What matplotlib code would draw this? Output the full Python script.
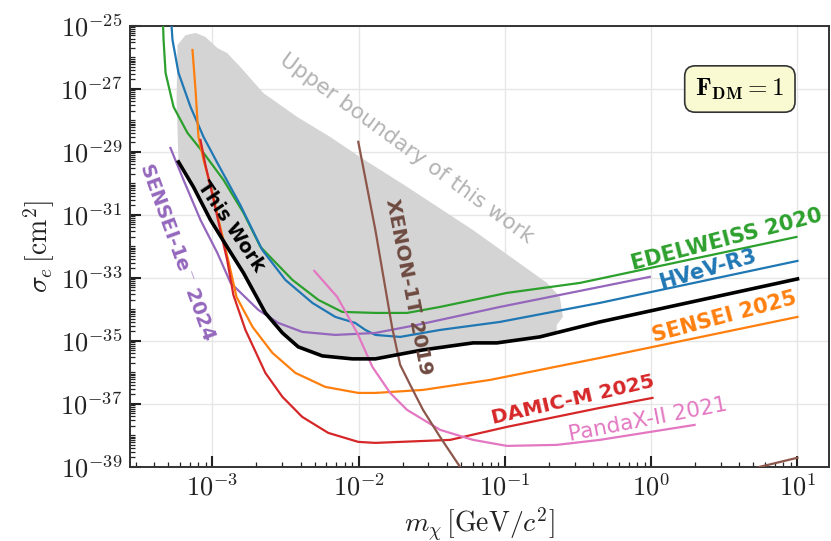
import numpy as np
import matplotlib
matplotlib.use("Agg")
import matplotlib.pyplot as plt
from matplotlib.ticker import LogLocator, FixedLocator, FuncFormatter, NullFormatter

plt.rcParams['mathtext.fontset'] = 'cm'
plt.rcParams['font.family'] = ['DejaVu Sans']

# curves: mass [GeV/c^2], cross section [cm^2]
edel_m = [4.56e-4, 4.63e-4, 4.78e-4, 5.42e-4, 6.75e-4, 8.69e-4, 1.19e-3, 1.63e-3, 2.13e-3,
          3.52e-3, 5.30e-3, 7.71e-3, 1.30e-2, 2.14e-2, 3.60e-2, 0.103, 0.325, 9.84]
edel_s = [3.22e-25, 3.60e-26, 3.22e-27, 2.69e-28, 4.01e-29, 9.29e-30, 1.29e-30, 1.16e-31, 9.64e-33,
          8.65e-34, 2.00e-34, 8.34e-35, 7.74e-35, 7.74e-35, 1.20e-34, 3.34e-34, 6.93e-34, 2.00e-32]

hvev_m = [5.16e-4, 5.33e-4, 5.86e-4, 7.08e-4, 8.69e-4, 1.08e-3, 1.55e-3, 2.19e-3, 3.15e-3,
          4.82e-3, 6.92e-3, 9.46e-3, 1.11e-2, 1.30e-2, 1.92e-2, 3.60e-2, 9.25e-2, 0.445, 10.0]
hvev_s = [3.22e-25, 3.60e-26, 3.22e-27, 2.69e-28, 2.99e-29, 4.48e-30, 2.07e-31, 7.74e-33, 8.65e-34,
          1.61e-34, 5.78e-35, 3.72e-35, 2.23e-35, 1.55e-35, 1.34e-35, 2.23e-35, 4.01e-35, 1.61e-34, 3.47e-33]

work_m = [5.86e-4, 7.41e-4, 9.69e-4, 1.26e-3, 1.63e-3, 2.30e-3, 3.01e-3, 3.86e-3, 5.64e-3,
          9.04e-3, 1.30e-2, 2.75e-2, 6.05e-2, 8.81e-2, 0.173, 0.445, 10.0]
work_s = [4.82e-30, 7.74e-31, 6.93e-32, 9.64e-33, 1.44e-33, 7.74e-35, 1.79e-35, 6.46e-36, 3.34e-36,
          2.69e-36, 2.69e-36, 5.18e-36, 8.65e-36, 8.65e-36, 1.34e-35, 4.01e-35, 9.29e-34]

s1e_m = [5.16e-4, 6.34e-4, 8.28e-4, 1.08e-3, 1.33e-3, 2.06e-3, 2.82e-3, 4.11e-3, 6.92e-3,
         1.30e-2, 2.51e-2, 9.25e-2, 0.445, 0.977]
s1e_s = [1.34e-29, 1.29e-30, 6.93e-32, 6.22e-33, 6.93e-34, 9.64e-35, 3.72e-35, 1.93e-35, 1.55e-35,
         1.79e-35, 3.22e-35, 1.20e-34, 5.18e-34, 1.08e-33]

s25_m = [7.30e-4, 7.66e-4, 8.02e-4, 8.69e-4, 1.00e-3, 1.13e-3, 1.29e-3, 1.46e-3, 1.88e-3,
         2.57e-3, 3.69e-3, 5.90e-3, 9.93e-3, 1.30e-2, 2.75e-2, 7.91e-2, 0.445, 10.0]
s25_s = [1.73e-26, 9.29e-28, 2.99e-29, 5.57e-30, 4.99e-31, 4.16e-32, 3.22e-33, 2.49e-34, 2.78e-35,
         4.16e-36, 9.64e-37, 3.47e-37, 2.23e-37, 2.23e-37, 2.78e-37, 5.78e-37, 2.88e-36, 5.78e-35]

damic_m = [8.28e-4, 8.95e-4, 1.00e-3, 1.13e-3, 1.26e-3, 1.39e-3, 1.68e-3, 2.30e-3, 3.01e-3,
           4.11e-3, 6.19e-3, 9.93e-3, 1.30e-2, 4.22e-2, 0.103, 0.445, 1.02]
damic_s = [2.40e-29, 3.86e-30, 4.31e-31, 3.34e-32, 3.72e-33, 2.88e-34, 2.23e-35, 9.64e-37, 1.67e-37,
           3.86e-38, 1.20e-38, 6.22e-39, 5.78e-39, 7.20e-39, 1.86e-38, 7.46e-38, 1.55e-37]

panda_m = [4.97e-3, 7.13e-3, 9.77e-3, 1.24e-2, 1.64e-2, 2.14e-2, 3.60e-2, 6.05e-2, 0.103,
           0.226, 0.445, 1.98]
panda_s = [1.67e-33, 2.49e-34, 1.79e-35, 1.50e-36, 2.23e-37, 6.46e-38, 1.50e-38, 7.20e-39, 4.64e-39,
           4.99e-39, 7.20e-39, 2.15e-38]

xenon_m = [9.93e-3, 1.30e-2, 1.69e-2, 1.92e-2, 2.25e-2, 2.75e-2, 3.60e-2, 4.93e-2, 5.5e-2]
xenon_s = [2.1e-29, 3.3e-32, 2.75e-35, 1.74e-36, 4.0e-37, 6.5e-38, 8.9e-39, 1.0e-39, 4e-40]

xenon2_m = [4.5, 5.51, 10.0]
xenon2_s = [7e-40, 1.0e-39, 1.95e-39]

# shaded region: upper boundary, then lower boundary back to the start
band_up_m = [5.86e-4, 5.68e-4, 5.77e-4, 6.55e-4, 7.66e-4, 8.95e-4, 1.08e-3, 1.26e-3, 1.55e-3,
             2.23e-3, 3.80e-3, 6.38e-3, 1.02e-2, 2.14e-2, 6.05e-2, 0.194, 0.237, 0.249, 0.226]
band_up_s = [4.82e-30, 4.5e-28, 2.5e-26, 5.1e-26, 6.0e-26, 4.5e-26, 2.0e-26, 1.38e-26, 5.0e-27,
             7.4e-28, 1.29e-28, 3.0e-29, 6.9e-30, 7.8e-31, 3.3e-32, 6.9e-34, 2.5e-34, 5.8e-35, 3.2e-35]
band_lo_m = [0.226, 0.173, 8.81e-2, 6.05e-2, 2.75e-2, 1.30e-2, 9.04e-3, 5.64e-3, 3.86e-3,
             3.01e-3, 2.30e-3, 1.63e-3, 1.26e-3, 9.69e-4, 7.41e-4, 5.86e-4]
band_lo_s = [2.0e-35, 1.34e-35, 8.65e-36, 8.65e-36, 5.18e-36, 2.69e-36, 2.69e-36, 3.34e-36, 6.46e-36,
             1.79e-35, 7.74e-35, 1.44e-33, 9.64e-33, 6.93e-32, 7.74e-31, 4.82e-30]

fig = plt.figure(figsize=(8.31, 5.41), dpi=100)
ax = fig.add_axes([0.157, 0.137, 0.84, 0.815])
ax.set_xscale('log')
ax.set_yscale('log')

ax.fill(band_up_m + band_lo_m, band_up_s + band_lo_s, color='#d4d4d4', lw=0, zorder=1)

ax.plot(edel_m, edel_s, color='#2ca02c', lw=1.6, zorder=3)
ax.plot(hvev_m, hvev_s, color='#1f77b4', lw=1.6, zorder=3)
ax.plot(s1e_m, s1e_s, color='#9467bd', lw=1.6, zorder=3)
ax.plot(s25_m, s25_s, color='#ff7f0e', lw=1.6, zorder=3)
ax.plot(damic_m, damic_s, color='#d62728', lw=1.6, zorder=3)
ax.plot(panda_m, panda_s, color='#e377c2', lw=1.6, zorder=3)
ax.plot(xenon_m, xenon_s, color='#8c564b', lw=1.6, zorder=3)
ax.plot(xenon2_m, xenon2_s, color='#8c564b', lw=1.6, zorder=3)
ax.plot(work_m, work_s, color='black', lw=2.6, zorder=4)

ax.set_xlim(2.75e-4, 16.3)
ax.set_ylim(1e-39, 1e-25)

# ticks
ax.xaxis.set_major_locator(LogLocator(base=10, numticks=20))
ax.xaxis.set_minor_locator(LogLocator(base=10, subs=np.arange(2, 10), numticks=20))
ax.xaxis.set_minor_formatter(NullFormatter())
ax.xaxis.set_major_formatter(FuncFormatter(lambda v, p: r'$10^{%d}$' % round(np.log10(v))))
ax.yaxis.set_major_locator(FixedLocator([10.0 ** e for e in range(-39, -24, 2)]))
ax.yaxis.set_minor_locator(LogLocator(base=10, subs=np.arange(1, 10), numticks=30))
ax.yaxis.set_minor_formatter(NullFormatter())
ax.yaxis.set_major_formatter(FuncFormatter(lambda v, p: r'$10^{%d}$' % round(np.log10(v))))
ax.tick_params(which='both', direction='in', top=False, right=False, labelsize=19, colors='#222222')
ax.tick_params(which='major', length=8, width=1.5, pad=6)
ax.tick_params(which='minor', length=3.5, width=0.9)
ax.grid(True, which='major', color='#e6e6e6', lw=1.0, zorder=0)
ax.set_axisbelow(True)
for sp in ax.spines.values():
    sp.set_color('#333333')
    sp.set_linewidth(1.4)

ax.set_xlabel(r'$m_\chi\,[\mathrm{GeV}/c^2]$', fontsize=20, color='#222222', labelpad=2)
ax.set_ylabel(r'$\sigma_e\,[\mathrm{cm}^2]$', fontsize=20, color='#222222', labelpad=2)

# labels on the curves
ax.text(2.11e-2, 1.26e-29, 'Upper boundary of this work', color='#b3b3b3', fontsize=15.5,
        rotation=-36, ha='center', va='center', zorder=2)
ax.text(2.18e-2, 5.1e-34, 'XENON-1T 2019', color='#6e4a40', fontsize=14.5, fontweight='bold',
        rotation=-79, ha='center', va='center', zorder=5)
ax.text(1.33e-3, 4.2e-32, 'This Work', color='black', fontsize=13.5, fontweight='bold',
        rotation=-56, ha='center', va='center', zorder=5)
ax.text(5.77e-4, 6.8e-33, r'SENSEI-1e$^{-}$ 2024', color='#9467bd', fontsize=14, fontweight='bold',
        rotation=-70, ha='center', va='center', zorder=5)
ax.text(3.27, 1.6e-32, 'EDELWEISS 2020', color='#2ca02c', fontsize=15, fontweight='bold',
        rotation=14.5, ha='center', va='center', zorder=5)
ax.text(2.43, 1.9e-33, 'HVeV-R3', color='#1f77b4', fontsize=15, fontweight='bold',
        rotation=16, ha='center', va='center', zorder=5)
ax.text(3.18, 5.8e-35, 'SENSEI 2025', color='#ff7f0e', fontsize=15, fontweight='bold',
        rotation=15, ha='center', va='center', zorder=5)
ax.text(0.291, 1.35e-37, 'DAMIC-M 2025', color='#d62728', fontsize=14.5, fontweight='bold',
        rotation=13, ha='center', va='center', zorder=5)
ax.text(0.946, 3.1e-38, 'PandaX-II 2021', color='#e377c2', fontsize=15.5,
        rotation=11, ha='center', va='center', zorder=5)

ax.text(0.873, 0.857, r'$\mathbf{F_{DM}=1}$', transform=ax.transAxes, fontsize=18,
        ha='center', va='center', zorder=6,
        bbox=dict(boxstyle='round,pad=0.42', fc='#fafad2', ec='#333333', lw=1.2))

fig.savefig('out.png', dpi=100)
